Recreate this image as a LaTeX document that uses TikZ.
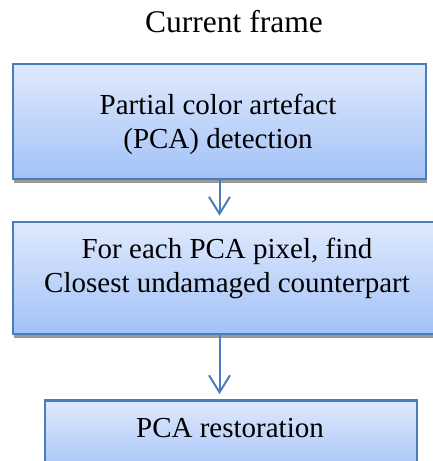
\documentclass[tikz,border=0pt]{standalone}
\usepackage{fontspec}
\setmainfont{Liberation Serif}
\usetikzlibrary{arrows.meta,shadows}

\definecolor{boxline}{RGB}{74,126,187}
\definecolor{boxtop}{RGB}{223,233,253}
\definecolor{boxbottom}{RGB}{163,194,247}

\begin{document}
\begin{tikzpicture}
[
	x=1bp, y=-1bp,
	stepbox/.style={draw=boxline,line width=2.6bp,top color=boxtop,bottom color=boxbottom,
		drop shadow={shadow xshift=1bp,shadow yshift=-4bp,fill=black!40,opacity=1}},
	steptext/.style={font=\fontsize{29bp}{34bp}\selectfont,align=center,inner sep=0pt},
	flow/.style={-{Straight Barb[length=17bp,width=21bp]},draw=boxline,line width=2bp,shorten >=5bp}
]

	\useasboundingbox (0,0) rectangle (433,461);

	% heading
	\node[font=\fontsize{31.5bp}{36bp}\selectfont,anchor=base,inner sep=0pt] (title) at (234,33) {Current frame};

	% boxes
	\node[stepbox,minimum width=413bp,minimum height=115bp] (detect) at (219.5,121.5) {};
	\node[stepbox,minimum width=430bp,minimum height=112bp] (search) at (228,278) {};
	\node[stepbox,minimum width=372bp,minimum height=75bp] (restore) at (231,438) {};

	% box texts
	\node[steptext] (detecttext) at (218,124.5) {Partial color artefact\\(PCA) detection};
	\node[steptext] (searchtext) at (227,268.5) {For each PCA pixel, find\\Closest undamaged counterpart};
	\node[steptext,anchor=base] (restoretext) at (230,437) {PCA restoration};

	% arrows
	\draw[flow] (detect.south) -- (detect.south |- search.north);
	\draw[flow] (detect.south |- search.south) -- (detect.south |- restore.north);

\end{tikzpicture}
\end{document}
